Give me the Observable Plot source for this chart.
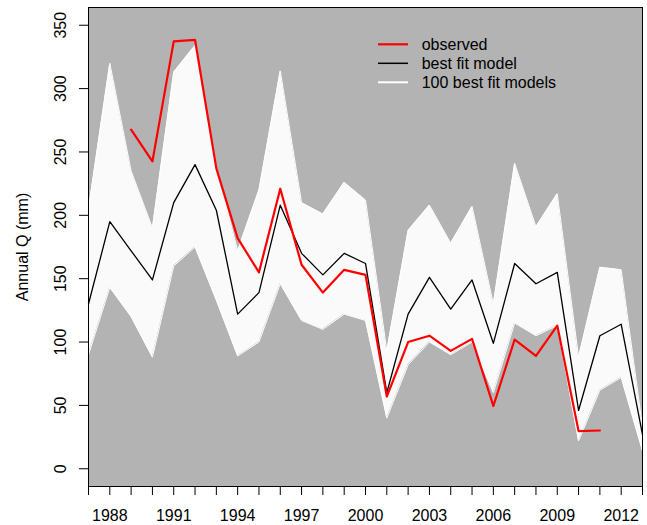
<!DOCTYPE html>
<html><head><meta charset="utf-8">
<script src="https://cdn.jsdelivr.net/npm/d3@7"></script>
<script src="https://cdn.jsdelivr.net/npm/@observablehq/plot@0.6"></script>
<style>body{margin:0;background:#fff;} #chart svg{display:block}</style>
</head><body><div id="chart"></div>
<script>
const years = [1987,1988,1989,1990,1991,1992,1993,1994,1995,1996,1997,1998,1999,2000,2001,2002,2003,2004,2005,2006,2007,2008,2009,2010,2011,2012,2013];
const labelYears = [1988,1991,1994,1997,2000,2003,2006,2009,2012];
const yTicks = [0,50,100,150,200,250,300,350];
const observed = [null,null,267.6,242.6,337.3,338.4,237,182,155,221,161,139,157,153,57,100,105,93,102.5,49.5,102,89,113,29.7,30.2,null,null];
const bestFit = [130,195,172,149,210,240,204,122,139,208,170,153,170,162,60,122,151,126,149,99,162,146,155,46,105,114,27];
const modelsMax = [205,320,235,190,313,334,238,172,220,314,210,201,226,212,93,188,208,178,207,130,241,191,217,88,159,157,33];
const modelsMin = [90,143,120,88,160,175,133,89,100,146,117,110,122,117,40,82,100,90,100,60,115,105,113,22,62,72,14];
const legendLabels = ["observed","best fit model","100 best fit models"];
const legendColors = ["#ff0000","#000000","#ffffff"];
const legendWidths = [2.2,1.5,2];

const band = years.map((y,i)=>({year:y, hi:modelsMax[i], lo:modelsMin[i]}));
const fitData = years.map((y,i)=>({year:y, q:bestFit[i]}));
const obsData = years.map((y,i)=>({year:y, q:observed[i]})).filter(d=>d.q!=null);

function legendMark(index, scales, values, dimensions) {
  const g = d3.create("svg:g")
    .attr("font-family","Liberation Sans, Arial, sans-serif")
    .attr("font-size",16).attr("fill","black").attr("text-anchor","start");
  legendLabels.forEach((lab,i)=>{
    const yy = dimensions.marginTop + 37.3 + i*19;
    const x0 = dimensions.marginLeft + 290;
    g.append("line").attr("x1",x0).attr("x2",x0+30).attr("y1",yy).attr("y2",yy)
      .attr("stroke",legendColors[i]).attr("stroke-width",legendWidths[i]);
    g.append("text").attr("x",x0+43.7).attr("y",yy).attr("dy","0.35em")
      .attr("text-anchor","start").text(lab);
  });
  return g.node();
}

const chart = Plot.plot({
  width: 647, height: 525,
  marginLeft: 88, marginRight: 5, marginTop: 7, marginBottom: 39,
  x: {domain:[1987,2013], axis:null},
  y: {domain:[-14,364], axis:null},
  style: {fontFamily:"Liberation Sans, Arial, sans-serif", fontSize:"16px", background:"white", color:"black", overflow:"visible"},
  marks: [
    Plot.frame({fill:"#b3b3b3", stroke:null}),
    Plot.areaY(band, {x:"year", y1:"lo", y2:"hi", fill:"white", fillOpacity:0.93}),
    Plot.line(band, {x:"year", y:"hi", stroke:"white", strokeWidth:1}),
    Plot.line(band, {x:"year", y:"lo", stroke:"white", strokeWidth:1}),
    Plot.line(fitData, {x:"year", y:"q", stroke:"black", strokeWidth:1.3}),
    Plot.line(obsData, {x:"year", y:"q", stroke:"#ff0000", strokeWidth:2.2}),
    Plot.frame({stroke:"black", strokeWidth:1}),
    Plot.axisY({ticks:yTicks, tickSize:9, tickFormat:()=>"", label:null, stroke:"black"}),
    Plot.text(yTicks, {y:d=>d, text:d=>String(d), frameAnchor:"left", dx:-28, rotate:-90, textAnchor:"middle", lineAnchor:"middle", fontSize:16}),
    Plot.axisX({ticks:years, tickSize:9, tickFormat:()=>"", label:null, stroke:"black"}),
    Plot.text(labelYears, {x:d=>d, text:d=>String(d), frameAnchor:"bottom", dy:29, textAnchor:"middle", lineAnchor:"middle", fontSize:16}),
    Plot.text(["Annual Q (mm)"], {frameAnchor:"left", dx:-66, rotate:-90, textAnchor:"middle", lineAnchor:"middle", fontSize:16}),
    legendMark
  ]
});
document.getElementById("chart").appendChild(chart);
</script>
</body></html>
